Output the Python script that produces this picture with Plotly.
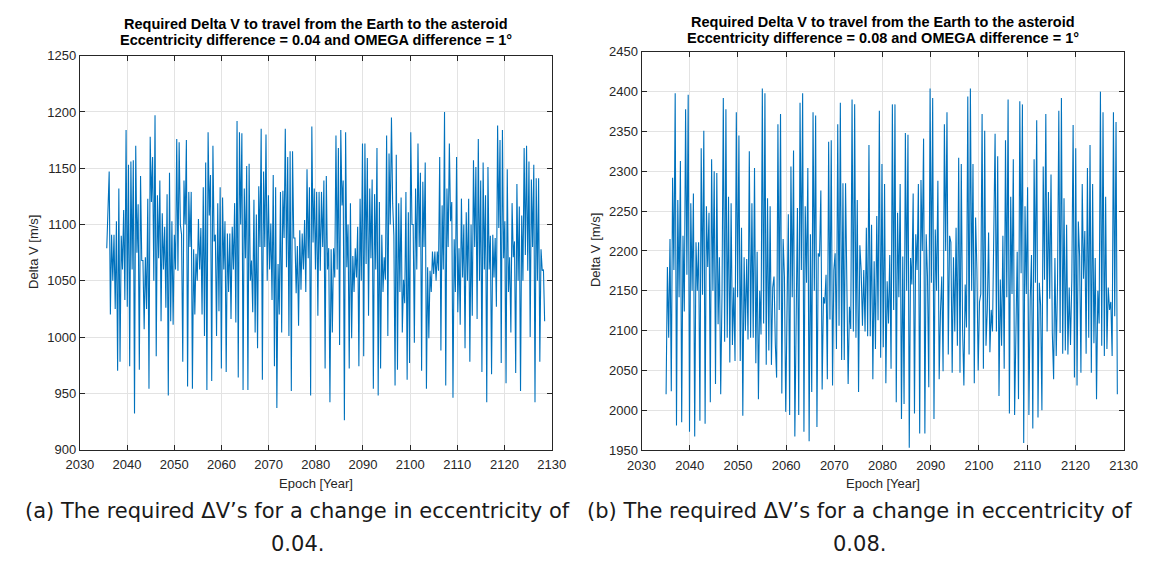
import numpy as np
import plotly.graph_objects as go

W, H = 1162, 574

# ---- Delta V series (m/s), eccentricity difference 0.04 ----
epoch_a_start, epoch_a_end = 2035.7, 2128.5
dv_a = [
    1079, 1105, 1147, 1020, 1091, 1050, 1091, 1025, 1103, 970, 1132, 978, 1090, 1060, 1113, 1033,
    1184, 1027, 1153, 974, 1156, 1060, 1157, 932, 1170, 1075, 1118, 971, 1143, 1068, 1068, 1007,
    1071, 1025, 1123, 954, 1178, 1120, 1160, 1050, 1197, 983, 1126, 1070, 1139, 1014, 1110, 1060,
    1098, 1026, 1127, 948, 1146, 1014, 1103, 1011, 1091, 1060, 1176, 1059, 1173, 1100, 1091, 978,
    1139, 1100, 1175, 956, 1129, 1080, 1129, 954, 1078, 1020, 1074, 1050, 1105,
    1060, 1097, 1020, 1133, 1001, 1155, 953, 1182, 1108, 1144, 961, 1170, 1085, 1091, 1001, 1119,
    1023, 1133, 972, 1124, 1060, 1103, 969, 1092, 1040, 1092, 1016, 1098, 1060, 1119, 1013, 1192,
    964, 1182, 1100, 1181, 953, 1132, 1070, 1152, 953, 1154, 1050, 1068, 1022, 1122, 1004, 1109,
    990, 1134, 1080, 1185, 962, 1147, 1080, 1180, 1050, 1126, 1060, 1101, 1033, 1144, 974, 1133,
    937, 1065, 1020, 1129, 1004, 1130, 1088, 1185, 1062, 1160, 1001, 1165, 952, 1165, 1088, 1088,
    1039, 1081, 1010, 1095, 1042, 1092, 1060, 1104, 1040, 1149, 1070, 1133, 948, 1187, 1084, 1132,
    1060,
    1129, 1019, 1129, 1059, 1129, 1080, 1139, 972, 1143, 1060, 1079, 942, 1078, 1004, 1079, 1053,
    1179, 1060, 1168, 993, 1184, 1117, 1139, 926, 1182, 1062, 1100, 972, 1119, 999, 1072, 1040,
    1079, 1053, 1098, 974, 1123, 1050, 1172, 983, 1172, 1065, 1159, 1019, 1132, 1070, 1140, 954,
    1127, 1060, 1168, 948, 1120, 972, 1091, 1040, 1071, 1051, 1179, 1001, 1163, 1100, 1195, 1119,
    1090, 957, 1162, 971, 1119, 1040, 1124, 1004, 1051, 1030, 1129, 962, 1111, 977, 1182, 1100,
    1100, 995, 1132, 1060, 1172, 1080, 1146, 970, 1138, 1080, 1155, 954, 1062, 999, 1059, 1040,
    1076, 1056, 1076, 1050,
    1076, 1059, 1160, 988, 1117, 1060, 1200, 957, 1132, 1080, 1172, 1103, 1120, 946, 1087, 1040,
    1160, 1022, 1079, 1011, 1123, 1053, 1100, 990, 1111, 1050, 1123, 978, 1100, 1019, 1157, 1080,
    1151, 1016, 1176, 1050, 1139, 969, 1155, 1060, 1126, 942, 1151, 1060, 1090, 967, 1091, 1053,
    1088, 1027, 1188, 1097, 1175, 977, 1184, 1070, 1103, 959, 1149, 1040, 1071, 1004, 1119, 1071,
    1085, 968, 1136, 1050, 1116, 952, 1108, 1050, 1168, 1073, 1170, 1059, 1156, 1000, 1140, 1080,
    1153, 942, 1141, 1050, 1141, 978, 1078, 1059, 1060, 1014,
]

# ---- Delta V series (m/s), eccentricity difference 0.08 ----
epoch_b_start, epoch_b_end = 2035.1, 2128.7
dv_b = [
    2020, 2180, 2091, 2215, 2024, 2292, 2176, 2398, 1981, 2264, 2142, 2313, 1985, 2219, 2124, 2378,
    2170, 2396, 1973, 2260, 2150, 2272, 1967, 2211, 2150, 2211, 1987, 2329, 2145, 2351, 1983, 2256,
    2180, 2248, 2010, 2315, 2150, 2300, 2033, 2298, 2108, 2192, 2020, 2146, 2392, 2086, 2378, 2091,
    2268, 2060, 2260, 2082, 2154, 2062, 2374, 2142, 2345, 2062, 2229, 1993, 2192, 2100, 2190, 2089,
    2325, 2091, 2260,
    2091, 2304, 2059, 2199, 2014, 2150, 2095, 2404, 2109, 2398, 2057, 2266, 2075, 2256, 2057, 2154,
    2168, 2083, 2041, 2359, 2126, 2372, 2021, 2215, 2168, 1998, 2172, 2246, 1994, 2306, 2142, 2326,
    1967, 2168, 2254, 1994, 2386, 2176, 2398, 1973, 2256, 2160, 2304, 1961, 2221, 2023, 2374, 2150,
    2370, 1979, 2197, 2193, 2276, 2026, 2142, 2134, 2170, 2039, 2337, 2114, 2339, 2031, 2176, 2197,
    2077, 2359, 2106, 2386, 2063, 2285, 2063, 2285, 2187, 2033, 2130, 2102, 2390, 2099, 2384, 2091,
    2264, 2023, 2207, 2176, 2106, 2176, 2099, 2229, 2093, 2333, 2093, 2233, 2039,
    2187, 2077, 2244, 2113, 2376, 2066, 2309, 2079, 2284, 2034, 2162, 2109, 2195, 2052, 2384, 2126,
    2384, 2010, 2248, 2142, 2284, 1989, 2193, 2008, 2348, 2150, 2346, 1953, 2191, 2158, 2272, 1996,
    2221, 2176, 2284, 1971, 2289, 2200, 2341, 1971, 2221, 2168, 2029, 2404, 2160, 2392, 1989, 2227,
    2150, 2288, 2039, 2124, 2168, 2049, 2359, 2200, 2374, 2070, 2219, 2211, 2047, 2192, 2099, 2229,
    2081, 2317, 2047, 2309, 2102, 2031, 2158, 2104, 2394, 2070, 2404, 2150, 2309, 2034, 2242, 2178,
    2050, 2136, 2146, 2372, 2052, 2351, 2081, 2126, 2223, 2073, 2126, 2099, 2215,
    2347, 2099, 2319, 2018, 2164, 2081, 2219, 2052, 2339, 2142, 2390, 1996, 2268, 2146, 2315, 1994,
    2106, 2199, 2014, 2388, 2172, 2384, 1959, 2256, 2146, 2280, 1994, 2138, 2195, 1977, 2315, 2160,
    2364, 1991, 2160, 2132, 2000, 2306, 2164, 2372, 2099, 2274, 2140, 2296, 2097, 2039, 2191, 2068,
    2158, 2376, 2097, 2392, 2071, 2266, 2075, 2233, 2070, 2154, 2082, 2164, 2358, 2041, 2329, 2031,
    2237, 2193, 2047, 2284, 2165, 2225, 2071, 2304, 2091, 2333, 2047, 2284, 2084, 2191, 2014, 2150,
    2109, 2400, 2081, 2374, 2068, 2268, 2077, 2154, 2126, 2136, 2068, 2374, 2118, 2362, 2020,
]

x_ticks = list(range(2030, 2131, 10))
y_ticks_a = list(range(900, 1251, 50))
y_ticks_b = list(range(1950, 2451, 50))

title_line1 = "Required Delta V to travel from the Earth to the asteroid"
title_line2 = ["Eccentricity difference = 0.04 and OMEGA difference = 1°",
               "Eccentricity difference = 0.08 and OMEGA difference = 1°"]
caption_line1 = ["(a) The required ΔV’s for a change in eccentricity of",
                 "(b) The required ΔV’s for a change in eccentricity of"]
caption_line2 = ["0.04.", "0.08."]

epoch_a = np.linspace(epoch_a_start, epoch_a_end, len(dv_a))
epoch_b = np.linspace(epoch_b_start, epoch_b_end, len(dv_b))

LINE = "#0072BD"
AX = "#262626"
GRID = "#e3e3e3"
SANS = "Liberation Sans, Arial, sans-serif"


def px(x):
    return x / W


def py(y):
    return 1 - y / H


fig = go.Figure()
fig.add_trace(go.Scatter(x=epoch_a, y=dv_a, mode="lines", line=dict(color=LINE, width=1.1),
                         xaxis="x", yaxis="y", showlegend=False))
fig.add_trace(go.Scatter(x=epoch_b, y=dv_b, mode="lines", line=dict(color=LINE, width=1.1),
                         xaxis="x2", yaxis="y2", showlegend=False))

axis_common = dict(
    showline=True, linecolor=AX, linewidth=1, mirror="ticks",
    ticks="inside", ticklen=5, tickcolor=AX, tickwidth=1,
    showgrid=True, gridcolor=GRID, gridwidth=1, zeroline=False,
    tickfont=dict(family=SANS, size=13, color=AX),
)
x_extra = dict(ticklabelstandoff=3)

fig.update_layout(
    width=W, height=H,
    margin=dict(l=0, r=0, t=0, b=0),
    paper_bgcolor="white", plot_bgcolor="white",
    xaxis=dict(domain=[px(67.5), px(551)], range=[2030, 2130], tickvals=x_ticks,
               anchor="y", **axis_common, **x_extra),
    yaxis=dict(domain=[py(454.5), py(50)], range=[900, 1250], tickvals=y_ticks_a,
               anchor="x", **axis_common),
    xaxis2=dict(domain=[px(643), px(1137)], range=[2030, 2130], tickvals=x_ticks,
                anchor="y2", **axis_common, **x_extra),
    yaxis2=dict(domain=[py(455), py(46)], range=[1950, 2450], tickvals=y_ticks_b,
                anchor="x2", **axis_common),
)

ann = []
# plot titles (two bold lines each)
for i, (cx, y1) in enumerate([(309, 17), (890, 15)]):
    for text, yy in [(title_line1, y1), (title_line2[i], y1 + 17)]:
        ann.append(dict(x=px(cx), y=py(yy), xref="paper", yref="paper", text="<b>" + text + "</b>",
                        showarrow=False, xanchor="center", yanchor="middle",
                        font=dict(family=SANS, size=14.5, color="#000000")))
# axis titles
for cx in [309, 890]:
    ann.append(dict(x=px(cx), y=py(489), xref="paper", yref="paper", text="Epoch [Year]",
                    showarrow=False, xanchor="center", yanchor="middle",
                    font=dict(family=SANS, size=13, color=AX)))
for cx, cy in [(20, 252), (596, 250)]:
    ann.append(dict(x=px(cx), y=py(cy), xref="paper", yref="paper", text="Delta V [m/s]",
                    showarrow=False, xanchor="center", yanchor="middle", textangle=-90,
                    font=dict(family=SANS, size=13, color=AX)))
# sub-figure captions
for i, cx in enumerate([290, 866]):
    for text, yy in [(caption_line1[i], 518), (caption_line2[i], 551)]:
        ann.append(dict(x=px(cx), y=py(yy), xref="paper", yref="paper", text=text,
                        showarrow=False, xanchor="center", yanchor="middle",
                        font=dict(family="DejaVu Sans, sans-serif", size=21, color="#1a1a1a")))

fig.update_layout(annotations=ann)
fig.write_html("out.html")
